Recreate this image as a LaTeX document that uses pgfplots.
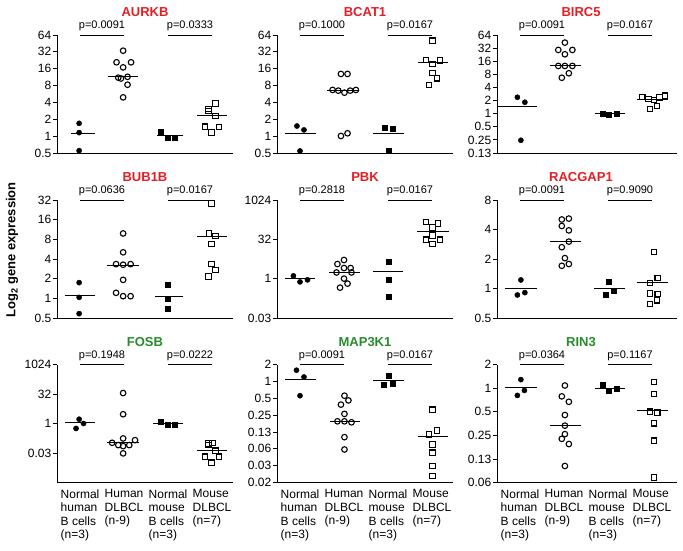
\documentclass[border=0pt]{standalone}
\usepackage{fontspec}
\setmainfont{Liberation Sans}
\usepackage{pgfplots}
\pgfplotsset{compat=1.18}
\definecolor{tred}{RGB}{228,30,37}
\definecolor{tgreen}{RGB}{40,140,45}
\pgfplotsset{
 dp/.style={
  scale only axis, width=176pt, height=118pt, anchor=north west,
  axis x line*=bottom, axis y line*=left,
  axis line style={line width=0.8pt, black},
  xmin=0.477, xmax=4.477,
  xtick=\empty,
  ytick pos=left, tick align=outside, major tick length=4pt,
  every tick/.style={black, line width=0.8pt},
  clip=false,
  /pgf/number format/assume math mode=true,
  yticklabel style={font=\fontsize{12}{14}\selectfont, inner xsep=1.5pt},
 },
 wide/.style={width=180pt, xmax=4.568},
 bottomrow/.style={
  xtick={1,2,3,4}, xtick style={draw=none},
  xticklabels={{Normal\\human\\B cells\\(n=3)},{Human\\DLBCL\\(n-9)},{Normal\\mouse\\B cells\\(n=3)},{Mouse\\DLBCL\\(n=7)}},
  xticklabel style={anchor=north west, align=left, xshift=-19.5pt, yshift=-3pt, inner sep=0pt, font=\fontsize{12}{13.5}\selectfont},
 },
 g1/.style={only marks, mark=*, mark size=2.6pt, black},
 g2/.style={only marks, mark=o, mark size=2.8pt, black, mark options={line width=1.1pt}},
 g3/.style={only marks, mark=square*, mark size=2.5pt, black},
 g4/.style={only marks, mark=square, mark size=2.7pt, black, mark options={line width=1.1pt}},
 ml/.style={black, line width=0.9pt, no marks},
}
\newcommand{\med}[3]{\addplot[ml] coordinates {(#1,#3)(#2,#3)};}
\newcommand{\pv}[3]{%
 \addplot[ml] coordinates {(1,#1)(2,#1)};
 \addplot[ml] coordinates {(3,#1)(4,#1)};
 \node[anchor=base, font=\fontsize{11}{13}\selectfont, yshift=6.5pt, inner sep=0pt] at (axis cs:1.5,#1) {#2};
 \node[anchor=base, font=\fontsize{11}{13}\selectfont, yshift=6.5pt, inner sep=0pt] at (axis cs:3.5,#1) {#3};}
\newcommand{\ttl}[3][0pt]{\node[anchor=base, font=\bfseries\fontsize{13}{15}\selectfont, text=#3, yshift=18.5pt, xshift=#1, inner sep=0pt] at (rel axis cs:0.5,1) {#2};}
\begin{document}
\begin{tikzpicture}
\useasboundingbox (0,0) rectangle (683pt,-550pt);
\node[rotate=90, font=\bfseries\fontsize{13}{15}\selectfont] at (12pt,-250pt) {Log\textsubscript{2} gene expression};

% AURKB
\begin{axis}[dp, at={(57pt,-35pt)}, ymin=-1, ymax=6, ytick={-1,0,...,6}, yticklabels={0.5,1,2,4,8,16,32,64}]
\addplot[g1] coordinates {(0.98,0.76)(0.98,0.21)(0.98,-0.86)};
\addplot[g2] coordinates {(1.98,5.07)(1.83,4.38)(2.16,4.38)(1.98,4.08)(1.87,3.47)(1.93,3.42)(2.08,3.52)(2.08,3.05)(1.98,2.30)};
\addplot[g3] coordinates {(2.84,0.27)(2.99,-0.09)(3.16,-0.09)};
\addplot[g4] coordinates {(4.08,1.93)(3.92,1.62)(3.92,1.50)(4.08,1.20)(3.84,0.56)(4.16,0.53)(3.99,0.21)};
\med{0.80}{1.34}{0.17}\med{1.64}{2.32}{3.53}\med{2.75}{3.34}{0.03}\med{3.66}{4.34}{1.20}
\pv{6}{p=0.0091}{p=0.0333}
\ttl{AURKB}{tred}
\end{axis}

% BCAT1
\begin{axis}[dp, at={(277pt,-35pt)}, ymin=-1, ymax=6, ytick={-1,0,...,6}, yticklabels={0.5,1,2,4,8,16,32,64}]
\addplot[g1] coordinates {(0.93,0.60)(1.09,0.37)(1.00,-0.88)};
\addplot[g2] coordinates {(1.93,3.69)(2.08,3.69)(1.74,2.74)(1.87,2.70)(2.01,2.58)(2.14,2.70)(2.27,2.74)(1.93,0.01)(2.08,0.17)};
\addplot[g3] coordinates {(2.93,0.52)(3.10,0.44)(3.02,-0.88)};
\addplot[g4] coordinates {(4.01,5.66)(3.86,4.52)(4.01,4.28)(4.18,4.48)(4.01,3.76)(4.11,3.43)(3.93,3.02)};
\med{0.66}{1.36}{0.15}\med{1.61}{2.35}{2.72}\med{2.67}{3.36}{0.15}\med{3.69}{4.37}{4.40}
\pv{6}{p=0.1000}{p=0.0167}
\ttl{BCAT1}{tred}
\end{axis}

% BIRC5
\begin{axis}[dp, wide, at={(497pt,-35pt)}, ymin=-3, ymax=6, ytick={-3,-2,...,6}, yticklabels={0.13,0.25,0.5,1,2,4,8,16,32,64}]
\addplot[g1] coordinates {(0.94,1.25)(1.11,0.87)(1.02,-2.03)};
\addplot[g2] coordinates {(2.02,5.42)(1.87,4.86)(2.19,4.86)(2.02,4.53)(1.87,3.64)(2.02,3.64)(2.19,3.64)(2.11,3.08)(1.95,2.74)};
\addplot[g3] coordinates {(2.87,0.03)(3.02,-0.05)(3.20,0.03)};
\addplot[g4] coordinates {(3.78,1.29)(3.92,1.12)(4.05,1.04)(4.17,1.25)(4.30,1.37)(4.11,0.58)(3.95,0.36)};
\med{0.51}{1.38}{0.56}\med{1.68}{2.39}{3.66}\med{2.70}{3.39}{0.03}\med{3.65}{4.37}{1.12}
\pv{6}{p=0.0091}{p=0.0167}
\ttl[-6pt]{BIRC5}{tred}
\end{axis}

% BUB1B
\begin{axis}[dp, at={(57pt,-200pt)}, ymin=-1, ymax=5, ytick={-1,0,...,5}, yticklabels={0.5,1,2,4,8,16,32}]
\addplot[g1] coordinates {(0.98,0.80)(0.98,0.05)(0.98,-0.78)};
\addplot[g2] coordinates {(1.98,3.30)(1.98,2.34)(1.82,1.74)(1.98,1.71)(2.15,1.74)(1.98,0.94)(1.82,0.28)(1.98,0.11)(2.15,0.11)};
\addplot[g3] coordinates {(2.99,0.68)(2.99,0.00)(2.99,-0.52)};
\addplot[g4] coordinates {(3.99,4.83)(3.93,3.29)(4.08,3.16)(3.99,2.77)(3.99,1.74)(4.08,1.45)(3.92,1.11)};
\med{0.66}{1.34}{0.16}\med{1.61}{2.33}{1.67}\med{2.70}{3.33}{0.11}\med{3.66}{4.34}{3.13}
\pv{5}{p=0.0636}{p=0.0167}
\ttl{BUB1B}{tred}
\end{axis}

% PBK
\begin{axis}[dp, at={(277pt,-200pt)}, ymin=-5, ymax=10, ytick={-5,0,5,10}, yticklabels={0.03,1,32,1024}]
\addplot[g1] coordinates {(0.85,0.36)(1.00,-0.41)(1.17,-0.15)};
\addplot[g2] coordinates {(2.00,2.37)(1.85,1.86)(2.15,1.35)(2.00,1.35)(1.83,0.79)(2.17,0.79)(2.00,0.01)(2.08,-0.63)(1.91,-1.14)};
\addplot[g3] coordinates {(3.01,2.20)(3.01,-0.07)(3.02,-2.30)};
\addplot[g4] coordinates {(3.86,7.21)(4.14,7.00)(4.01,6.49)(4.01,5.50)(3.86,4.95)(4.18,4.95)(4.01,4.43)};
\med{0.66}{1.34}{0.02}\med{1.67}{2.36}{0.79}\med{2.67}{3.35}{0.92}\med{3.67}{4.38}{6.05}
\pv{10}{p=0.2818}{p=0.0167}
\ttl{PBK}{tred}
\end{axis}

% RACGAP1
\begin{axis}[dp, wide, at={(497pt,-200pt)}, ymin=-1, ymax=3, ytick={-1,0,...,3}, yticklabels={0.5,1,2,4,8}]
\addplot[g1] coordinates {(1.02,0.29)(0.94,-0.22)(1.11,-0.14)};
\addplot[g2] coordinates {(1.95,2.34)(2.11,2.37)(1.95,2.12)(2.11,1.97)(2.11,1.59)(1.95,1.40)(2.02,1.03)(1.95,0.77)(2.11,0.83)};
\addplot[g3] coordinates {(3.02,0.23)(2.95,-0.20)(3.12,-0.06)};
\addplot[g4] coordinates {(4.05,1.23)(4.13,0.35)(3.95,0.18)(3.95,-0.17)(4.13,-0.18)(4.11,-0.40)(3.95,-0.52)};
\med{0.66}{1.38}{0.00}\med{1.68}{2.39}{1.59}\med{2.69}{3.39}{0.00}\med{3.65}{4.37}{0.20}
\pv{3}{p=0.0091}{p=0.9090}
\ttl[-6pt]{RACGAP1}{tred}
\end{axis}

% FOSB
\begin{axis}[dp, bottomrow, at={(57pt,-364.5pt)}, ymin=-10, ymax=10, ytick={-5,0,5,10}, yticklabels={0.03,1,32,1024}]
\addplot[g1] coordinates {(0.98,0.73)(1.08,0.00)(0.91,-0.84)};
\addplot[g2] coordinates {(1.98,5.16)(1.98,1.57)(1.98,-2.53)(1.73,-3.27)(2.25,-2.82)(1.87,-3.66)(2.12,-3.66)(1.98,-3.83)(1.98,-5.06)};
\addplot[g3] coordinates {(2.84,0.28)(3.00,-0.12)(3.16,-0.12)};
\addplot[g4] coordinates {(3.92,-3.37)(4.01,-3.27)(3.92,-3.66)(4.08,-4.61)(3.84,-5.63)(4.16,-5.63)(3.99,-6.64)};
\med{0.66}{1.34}{0.17}\med{1.61}{2.33}{-3.20}\med{2.67}{3.34}{0.05}\med{3.66}{4.34}{-4.61}
\pv{10}{p=0.1948}{p=0.0222}
\ttl{FOSB}{tgreen}
\end{axis}

% MAP3K1
\begin{axis}[dp, bottomrow, at={(277pt,-364.5pt)}, ymin=-6, ymax=1, ytick={-6,-5,...,1}, yticklabels={0.02,0.03,0.06,0.13,0.25,0.5,1,2}]
\addplot[g1] coordinates {(0.92,0.66)(1.09,0.26)(1.00,-0.85)};
\addplot[g2] coordinates {(2.01,-0.85)(2.10,-1.13)(1.93,-1.38)(2.01,-1.93)(1.85,-2.37)(2.01,-2.37)(2.17,-2.43)(2.01,-3.31)(2.01,-4.04)};
\addplot[g3] coordinates {(3.02,0.34)(2.91,-0.21)(3.10,-0.11)};
\addplot[g4] coordinates {(4.01,-1.68)(3.93,-3.15)(4.11,-2.92)(4.01,-3.74)(4.01,-4.23)(4.01,-5.02)(4.01,-5.61)};
\med{0.66}{1.36}{0.13}\med{1.68}{2.36}{-2.37}\med{2.67}{3.36}{0.03}\med{3.69}{4.37}{-3.25}
\pv{1}{p=0.0091}{p=0.0167}
\ttl{MAP3K1}{tgreen}
\end{axis}

% RIN3
\begin{axis}[dp, wide, bottomrow, at={(497pt,-364.5pt)}, ymin=-4, ymax=1, ytick={-4,-3,...,1}, yticklabels={0.06,0.13,0.25,0.5,1,2}]
\addplot[g1] coordinates {(1.02,0.36)(1.10,-0.10)(0.94,-0.31)};
\addplot[g2] coordinates {(2.02,0.11)(1.95,-0.35)(2.11,-0.58)(2.02,-1.14)(2.02,-1.59)(2.02,-1.95)(1.95,-2.15)(2.11,-2.37)(2.02,-3.30)};
\addplot[g3] coordinates {(2.87,0.15)(3.02,-0.12)(3.20,-0.03)};
\addplot[g4] coordinates {(4.05,0.25)(4.05,-0.24)(3.95,-1.00)(4.12,-1.03)(4.05,-1.49)(4.05,-2.23)(4.05,-3.79)};
\med{0.66}{1.38}{0.02}\med{1.68}{2.39}{-1.59}\med{2.70}{3.39}{-0.01}\med{3.65}{4.37}{-0.93}
\pv{1}{p=0.0364}{p=0.1167}
\ttl[-6pt]{RIN3}{tgreen}
\end{axis}
\end{tikzpicture}
\end{document}
